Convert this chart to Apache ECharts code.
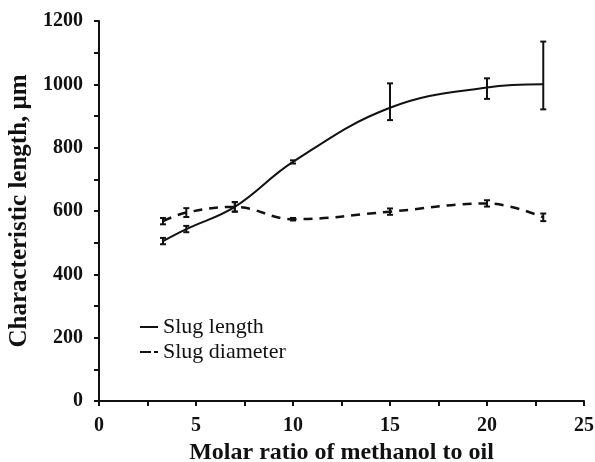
<!DOCTYPE html>
<html>
<head>
<meta charset="utf-8">
<script src="https://cdn.jsdelivr.net/npm/echarts@6/dist/echarts.min.js"></script>
<style>
  html, body { margin: 0; padding: 0; background: #fff; }
  #chart { width: 595px; height: 462px; }
</style>
</head>
<body>
<div id="chart"></div>
<script>
// Molar ratio of methanol to oil (x positions of the measurements)
const molarRatio = [3.3, 4.5, 7, 10, 15, 20, 22.9];
// Slug length, µm, with upper / lower error extents
const slugLength = [505, 543, 613, 755, 926, 990, 1000];
const slugLengthErrUp = [10, 10, 15, 5, 77, 29, 135];
const slugLengthErrDown = [10, 10, 15, 5, 39, 36, 79];
// Slug diameter, µm, with upper / lower error extents
const slugDiameter = [568, 595, 613, 574, 598, 624, 580];
const slugDiameterErrUp = [10, 14, 15, 4, 10, 10, 12];
const slugDiameterErrDown = [10, 14, 15, 4, 10, 10, 12];

const serif = '"Liberation Serif", "DejaVu Serif", serif';
const ink = '#111';

function pairs(xs, ys) {
  return xs.map((x, i) => [x, ys[i]]);
}
function errRows(xs, ys, up, down) {
  return xs.map((x, i) => [x, ys[i] - down[i], ys[i] + up[i]]);
}

// Vertical error bar with short caps
function renderErr(params, api) {
  const x = api.value(0);
  const lo = api.coord([x, api.value(1)]);
  const hi = api.coord([x, api.value(2)]);
  const cap = 3;
  const style = { stroke: ink, lineWidth: 2 };
  return {
    type: 'group',
    children: [
      { type: 'line', shape: { x1: lo[0], y1: lo[1], x2: hi[0], y2: hi[1] }, style },
      { type: 'line', shape: { x1: lo[0] - cap, y1: lo[1], x2: lo[0] + cap, y2: lo[1] }, style },
      { type: 'line', shape: { x1: hi[0] - cap, y1: hi[1], x2: hi[0] + cap, y2: hi[1] }, style }
    ]
  };
}

const chart = echarts.init(document.getElementById('chart'), null, { renderer: 'canvas' });
chart.setOption({
  backgroundColor: '#fff',
  animation: false,
  grid: { left: 99, right: 11, top: 21, bottom: 61, containLabel: false, outerBoundsMode: 'none' },
  legend: {
    orient: 'vertical',
    left: 135,
    top: 311,
    itemWidth: 18,
    itemHeight: 2,
    itemGap: 3,
    data: [
      { name: 'Slug length', icon: 'path://M0,0H18V2H0Z' },
      { name: 'Slug diameter', icon: 'path://M0,0H11V2H0Z M14,0H18V2H14Z' }
    ],
    itemStyle: { color: ink },
    textStyle: { fontFamily: serif, fontSize: 22, lineHeight: 22, color: ink }
  },
  xAxis: {
    type: 'value',
    min: 0,
    max: 25,
    interval: 2.5,
    name: 'Molar ratio of methanol to oil',
    nameLocation: 'middle',
    nameGap: 32,
    nameTextStyle: { fontFamily: serif, fontSize: 24, fontWeight: 'bold', color: ink },
    axisLine: { lineStyle: { color: ink, width: 2 } },
    axisTick: { show: true, length: 5, lineStyle: { color: ink, width: 2 } },
    axisLabel: {
      margin: 15,
      fontFamily: serif, fontSize: 20, fontWeight: 'bold', color: ink,
      formatter: v => (v % 5 === 0 ? String(v) : '')
    },
    splitLine: { show: false }
  },
  yAxis: {
    type: 'value',
    min: 0,
    max: 1200,
    interval: 100,
    name: 'Characteristic length, μm',
    nameLocation: 'middle',
    nameGap: 62,
    nameTextStyle: { fontFamily: serif, fontSize: 25, fontWeight: 'bold', color: ink },
    axisLine: { show: true, lineStyle: { color: ink, width: 2 } },
    axisTick: { show: true, length: 5, lineStyle: { color: ink, width: 2 } },
    axisLabel: {
      margin: 16,
      fontFamily: serif, fontSize: 20, fontWeight: 'bold', color: ink,
      formatter: v => (v % 200 === 0 ? String(v) : '')
    },
    splitLine: { show: false }
  },
  series: [
    {
      name: 'Slug length',
      type: 'line',
      smooth: 0.4,
      symbol: 'none',
      data: pairs(molarRatio, slugLength),
      lineStyle: { color: ink, width: 2, type: 'solid' },
      itemStyle: { color: ink },
      z: 3
    },
    {
      name: 'Slug diameter',
      type: 'line',
      smooth: 0.4,
      symbol: 'none',
      data: pairs(molarRatio, slugDiameter),
      lineStyle: { color: ink, width: 2.5, type: [9, 7] },
      itemStyle: { color: ink },
      z: 3
    },
    {
      type: 'custom',
      renderItem: renderErr,
      data: errRows(molarRatio, slugLength, slugLengthErrUp, slugLengthErrDown),
      encode: { x: 0, y: [1, 2] },
      z: 4
    },
    {
      type: 'custom',
      renderItem: renderErr,
      data: errRows(molarRatio, slugDiameter, slugDiameterErrUp, slugDiameterErrDown),
      encode: { x: 0, y: [1, 2] },
      z: 4
    }
  ]
});
</script>
</body>
</html>
